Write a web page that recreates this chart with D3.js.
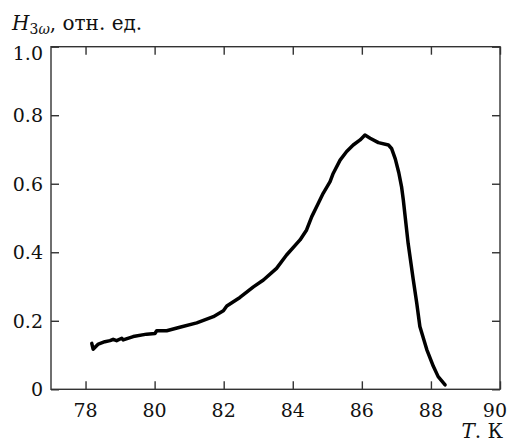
<!DOCTYPE html>
<html>
<head>
<meta charset="utf-8">
<script src="https://cdn.jsdelivr.net/npm/d3@7"></script>
<style>
  body { margin: 0; background: #fff; }
</style>
</head>
<body>
<script>
// температура, K
var temps = [78.18, 78.22, 78.37, 78.56, 78.71, 78.80, 78.90, 79.05, 79.09, 79.38,
             79.77, 80.01, 80.06, 80.35, 80.73, 81.22, 81.70, 81.99, 82.09, 82.47,
             82.86, 83.15, 83.53, 83.82, 84.21, 84.40, 84.55, 84.74, 84.88, 85.08,
             85.17, 85.37, 85.56, 85.75, 85.95, 86.09, 86.24, 86.48, 86.77, 86.86,
             86.97, 87.07, 87.15, 87.20, 87.34, 87.49, 87.59, 87.68, 87.88, 88.07, 88.21, 88.41];
// H3w, отн. ед.
var h3w = [0.134, 0.117, 0.132, 0.139, 0.142, 0.146, 0.142, 0.149, 0.144, 0.154,
           0.161, 0.163, 0.171, 0.171, 0.181, 0.194, 0.212, 0.229, 0.243, 0.268,
           0.299, 0.319, 0.353, 0.392, 0.436, 0.465, 0.504, 0.543, 0.572, 0.606,
           0.630, 0.669, 0.694, 0.713, 0.728, 0.742, 0.733, 0.720, 0.713, 0.703,
           0.672, 0.632, 0.591, 0.553, 0.426, 0.319, 0.251, 0.183, 0.116, 0.067, 0.037, 0.013];
var xTicks = [78, 80, 82, 84, 86, 88, 90];
var yTicks = [0, 0.2, 0.4, 0.6, 0.8, 1.0];

var w = 510, h = 442;
var mLeft = 51, mRight = 500, mTop = 46.7, mBottom = 389.3;
var font = "'DejaVu Serif', serif";

var svg = d3.select("body").append("svg")
    .attr("width", w)
    .attr("height", h)
    .attr("font-family", font);

var x = d3.scaleLinear().domain([77, 90]).range([mLeft, mRight]);
var y = d3.scaleLinear().domain([0, 1]).range([mBottom, mTop]);

var tl = 8;
var axisColor = "#333";

// рамка
svg.append("rect")
    .attr("x", mLeft).attr("y", mTop)
    .attr("width", mRight - mLeft).attr("height", mBottom - mTop)
    .attr("fill", "none")
    .attr("stroke", axisColor)
    .attr("stroke-width", 1.4);

// оси (засечки внутрь)
function styleAxis(g) {
    g.select(".domain").remove();
    g.selectAll("line").attr("stroke", axisColor).attr("stroke-width", 1.4);
    g.selectAll("text").remove();
}
svg.append("g").attr("transform", "translate(0," + mBottom + ")")
    .call(d3.axisTop(x).tickValues(xTicks).tickSize(tl)).call(styleAxis);
svg.append("g").attr("transform", "translate(0," + mTop + ")")
    .call(d3.axisBottom(x).tickValues(xTicks).tickSize(tl)).call(styleAxis);
svg.append("g").attr("transform", "translate(" + mLeft + ",0)")
    .call(d3.axisRight(y).tickValues(yTicks).tickSize(tl)).call(styleAxis);
svg.append("g").attr("transform", "translate(" + mRight + ",0)")
    .call(d3.axisLeft(y).tickValues(yTicks).tickSize(tl)).call(styleAxis);

// подписи
svg.selectAll("text.xl").data(xTicks).enter().append("text")
    .attr("class", "xl")
    .attr("x", function(d) { return d == 90 ? w - 3 : x(d); })
    .attr("y", 417)
    .attr("text-anchor", function(d) { return d == 90 ? "end" : "middle"; })
    .attr("font-size", 19)
    .attr("fill", "#111")
    .text(function(d) { return d; });

svg.selectAll("text.yl").data(yTicks).enter().append("text")
    .attr("class", "yl")
    .attr("x", 43)
    .attr("y", function(d) { return y(d) + (d == 1 ? 13 : 7); })
    .attr("text-anchor", "end")
    .attr("font-size", 19)
    .attr("fill", "#111")
    .text(function(d) { return d == 0 ? "0" : d.toFixed(1); });

var title = svg.append("text").attr("x", 12).attr("y", 30)
    .attr("font-size", 20).attr("fill", "#111");
title.append("tspan").attr("font-style", "italic").text("H");
title.append("tspan").attr("font-size", 14).attr("dy", 4).text("3");
title.append("tspan").attr("font-size", 14).attr("font-style", "italic").text("ω");
title.append("tspan").attr("dy", -4).text(", отн. ед.");

var xt = svg.append("text").attr("x", 503).attr("y", 438)
    .attr("text-anchor", "end").attr("font-size", 20).attr("fill", "#111");
xt.append("tspan").attr("font-style", "italic").text("T");
xt.append("tspan").text(". К");

// кривая
var pts = temps.map(function(t, i) { return [t, h3w[i]]; });
var line = d3.line()
    .x(function(d) { return x(d[0]); })
    .y(function(d) { return y(d[1]); })
    .curve(d3.curveLinear);

svg.append("path")
    .datum(pts)
    .attr("d", line)
    .attr("fill", "none")
    .attr("stroke", "#000")
    .attr("stroke-width", 3.5)
    .attr("stroke-linejoin", "round")
    .attr("stroke-linecap", "round");
</script>
</body>
</html>
